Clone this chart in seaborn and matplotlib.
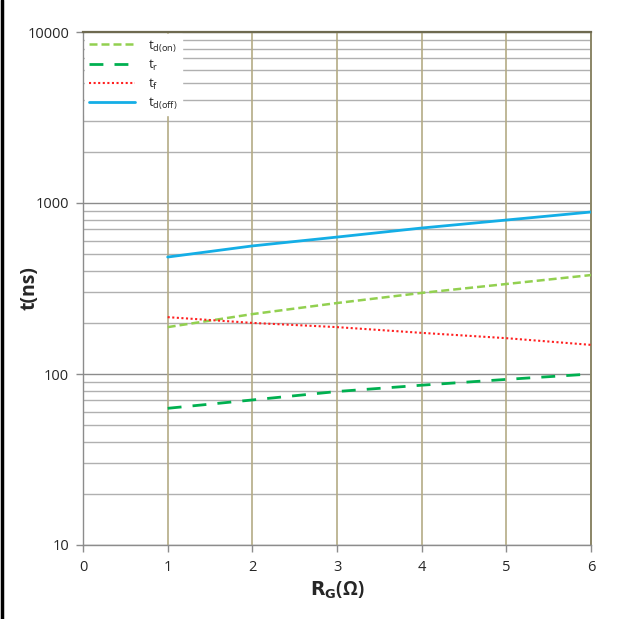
import matplotlib
matplotlib.use("Agg")
import matplotlib.pyplot as plt
from matplotlib.lines import Line2D
from matplotlib.ticker import LogLocator, FixedLocator, NullFormatter
import seaborn as sns
import pandas as pd

# Switching times versus gate resistance
rg = [1, 2, 3, 4, 5, 6]
t_d_on = [188, 224, 260, 298, 336, 379]
t_r = [63, 70.5, 79, 86, 93, 100]
t_f = [215, 199, 188, 174, 162, 148]
t_d_off = [483, 561, 632, 714, 795, 886]

series_labels = [r"$\mathregular{t_{d(on)}}$", r"$\mathregular{t_{r}}$",
                 r"$\mathregular{t_{f}}$", r"$\mathregular{t_{d(off)}}$"]
y_ticks = [10, 100, 1000, 10000]
x_ticks = [0, 1, 2, 3, 4, 5, 6]

sns.set_theme(style="white")
plt.rcParams["font.family"] = ["Open Sans", "DejaVu Sans"]

fig = plt.figure(figsize=(6.29, 6.19), dpi=100)
ax = fig.add_axes([83 / 629, 1 - 545 / 619, (591 - 83) / 629, (545 - 32) / 619])

styles = [
    dict(color="#92d050", linestyle=(0, (3.2, 1.6)), linewidth=1.8),
    dict(color="#00b050", linestyle=(0, (5, 4)), linewidth=2.0),
    dict(color="#ff2020", linestyle=(0, (1, 1.2)), linewidth=1.5),
    dict(color="#14aee6", linestyle="-", linewidth=2.0),
]
for vals, lab, st in zip([t_d_on, t_r, t_f, t_d_off], series_labels, styles):
    df = pd.DataFrame({"RG": rg, "t": vals})
    sns.lineplot(data=df, x="RG", y="t", ax=ax, label=lab, zorder=3, **st)

ax.set_yscale("log")
ax.set_ylim(10, 10000)
ax.set_xlim(0, 6)
ax.yaxis.set_major_locator(FixedLocator(y_ticks))
ax.set_yticklabels([str(v) for v in y_ticks])
ax.yaxis.set_minor_locator(LogLocator(base=10, subs=range(2, 10)))
ax.yaxis.set_minor_formatter(NullFormatter())
ax.set_xticks(x_ticks)
ax.set_xticklabels([str(v) for v in x_ticks])

ax.grid(False)
ax.yaxis.grid(True, which="major", color="#8c8c8c", linewidth=1.0, zorder=1)
ax.yaxis.grid(True, which="minor", color="#b0b0b0", linewidth=1.0, zorder=1)
for xv in x_ticks[1:-1]:
    ax.axvline(xv, color="#b4ab85", linewidth=1.2, zorder=1)

ax.tick_params(axis="y", which="major", direction="out", length=5, width=1,
               color="#8c8c8c", labelsize=10.5, pad=5, left=True)
ax.tick_params(axis="y", which="minor", left=False)
ax.tick_params(axis="x", direction="out", length=5, width=1, color="#8c8c8c",
               labelsize=10.5, pad=6, bottom=True)

for side in ["left", "bottom"]:
    ax.spines[side].set_color("#8c8c8c")
    ax.spines[side].set_linewidth(1.0)
ax.spines["top"].set_color("#6e6a50")
ax.spines["top"].set_linewidth(1.6)
ax.spines["right"].set_color("#8a8566")
ax.spines["right"].set_linewidth(1.4)

ax.set_ylabel("t(ns)", fontsize=14, fontweight="bold")
ax.yaxis.set_label_coords(-43 / 508, 0.5)
ax.set_xlabel(r"$\mathbf{R_G}$(Ω)", fontsize=13.5, fontweight="bold", labelpad=3)

leg = ax.legend(loc="upper left", bbox_to_anchor=(0.0, 1.0), frameon=True,
                fontsize=9.5, handlelength=3.5, handletextpad=1.0,
                labelspacing=0.3, borderaxespad=0.15, borderpad=0.3)
leg.get_frame().set_facecolor("white")
leg.get_frame().set_edgecolor("white")
leg.get_frame().set_alpha(1.0)
leg.get_frame().set_boxstyle("square", pad=0.0)
leg.set_zorder(4)

# Left border line of the figure
fig.add_artist(Line2D([2 / 629, 2 / 629], [0, 1], transform=fig.transFigure,
                      color="black", linewidth=2.5))

fig.savefig("out.png", dpi=100, facecolor="white")
